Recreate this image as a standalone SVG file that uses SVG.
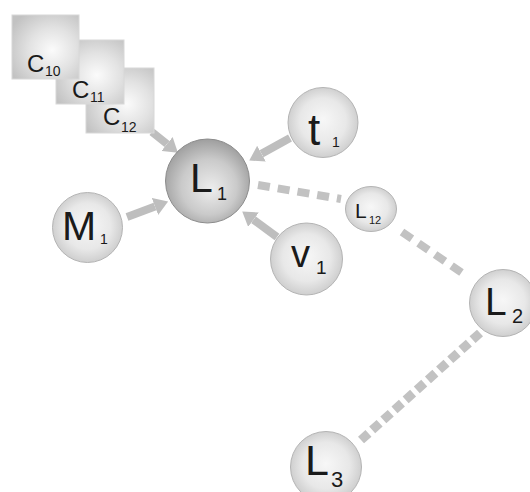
<svg xmlns="http://www.w3.org/2000/svg" width="530" height="492" viewBox="0 0 530 492">
<style>
text{font-family:"Liberation Sans",Arial,sans-serif;fill:#1a1a1a}
.node{fill:url(#gNode);stroke:#b4b4b4;stroke-width:1}
.main{fill:url(#gMain);stroke:#8c8c8c;stroke-width:1}
.sq{fill:url(#gSq);stroke:#d8d8d8;stroke-width:1}
.arrow{stroke:#bebebe;stroke-width:8;fill:none;marker-end:url(#head)}
.dash{stroke:#c2c2c2;fill:none}
</style>
<defs>
<radialGradient id="gNode" cx="0.5" cy="0.5" r="0.55" fx="0.5" fy="0.45">
<stop offset="0" stop-color="#f7f7f7"/>
<stop offset="0.6" stop-color="#e8e8e8"/>
<stop offset="1" stop-color="#c8c8c8"/>
</radialGradient>
<radialGradient id="gMain" cx="0.5" cy="0.55" r="0.55" fx="0.55" fy="0.6">
<stop offset="0" stop-color="#ededed"/>
<stop offset="0.6" stop-color="#cacaca"/>
<stop offset="1" stop-color="#9e9e9e"/>
</radialGradient>
<radialGradient id="gSq" cx="0.6" cy="0.55" r="0.7">
<stop offset="0" stop-color="#fbfbfb"/>
<stop offset="0.5" stop-color="#e2e2e2"/>
<stop offset="1" stop-color="#c2c2c2"/>
</radialGradient>
<marker id="head" viewBox="0 0 14 18" refX="0" refY="9" markerWidth="14" markerHeight="18" markerUnits="userSpaceOnUse" orient="auto">
<path d="M0,0 L14,9 L0,18 z" fill="#bebebe"/>
</marker>
</defs>

<g id="connectors">
<line class="arrow" x1="127" y1="217" x2="155" y2="206.5"/>
<line class="arrow" x1="152" y1="132" x2="167" y2="144"/>
<line class="arrow" x1="290" y1="138" x2="261.5" y2="153.7"/>
<line class="arrow" x1="277" y1="237" x2="253.5" y2="219.7"/>
<line class="dash" x1="258" y1="185" x2="341" y2="199" stroke-width="8" stroke-dasharray="12 8"/>
<line class="dash" x1="402" y1="232" x2="468" y2="277" stroke-width="8" stroke-dasharray="12 8"/>
<line class="dash" x1="480" y1="333" x2="361" y2="440" stroke-width="9" stroke-dasharray="10 5"/>
</g>

<g id="C12">
<rect class="sq" x="86" y="68" width="68" height="65"/>
<text x="103" y="125" font-size="24">C</text><text x="121" y="132" font-size="14">12</text>
</g>
<g id="C11">
<rect class="sq" x="56" y="40" width="68" height="64"/>
<text x="72" y="98" font-size="24">C</text><text x="90" y="102" font-size="14">11</text>
</g>
<g id="C10">
<rect class="sq" x="12" y="15" width="67" height="64"/>
<text x="27" y="72" font-size="24">C</text><text x="45" y="76" font-size="14">10</text>
</g>

<g id="L1">
<circle class="main" cx="207.5" cy="181" r="42"/>
<text x="190" y="192" font-size="41">L</text><text x="217" y="200" font-size="18">1</text>
</g>
<g id="t1">
<circle class="node" cx="323" cy="122.5" r="35"/>
<text x="308" y="145" font-size="44">t</text><text x="332" y="147" font-size="14">1</text>
</g>
<g id="M1">
<circle class="node" cx="87.5" cy="227.5" r="35"/>
<text x="62" y="240" font-size="41">M</text><text x="100" y="244" font-size="14">1</text>
</g>
<g id="v1">
<circle class="node" cx="306.5" cy="259" r="36"/>
<text x="291" y="267" font-size="38">v</text><text x="316" y="274" font-size="19">1</text>
</g>
<g id="L12">
<ellipse class="node" cx="371" cy="209" rx="25.5" ry="22.5"/>
<text x="355" y="218" font-size="21">L</text><text x="369" y="224" font-size="11">12</text>
</g>
<g id="L2">
<circle class="node" cx="503" cy="303" r="33.5"/>
<text x="485" y="315" font-size="39">L</text><text x="512" y="323" font-size="20">2</text>
</g>
<g id="L3">
<circle class="node" cx="326" cy="467" r="35.5"/>
<text x="305" y="475" font-size="43">L</text><text x="331" y="487" font-size="22">3</text>
</g>
</svg>
